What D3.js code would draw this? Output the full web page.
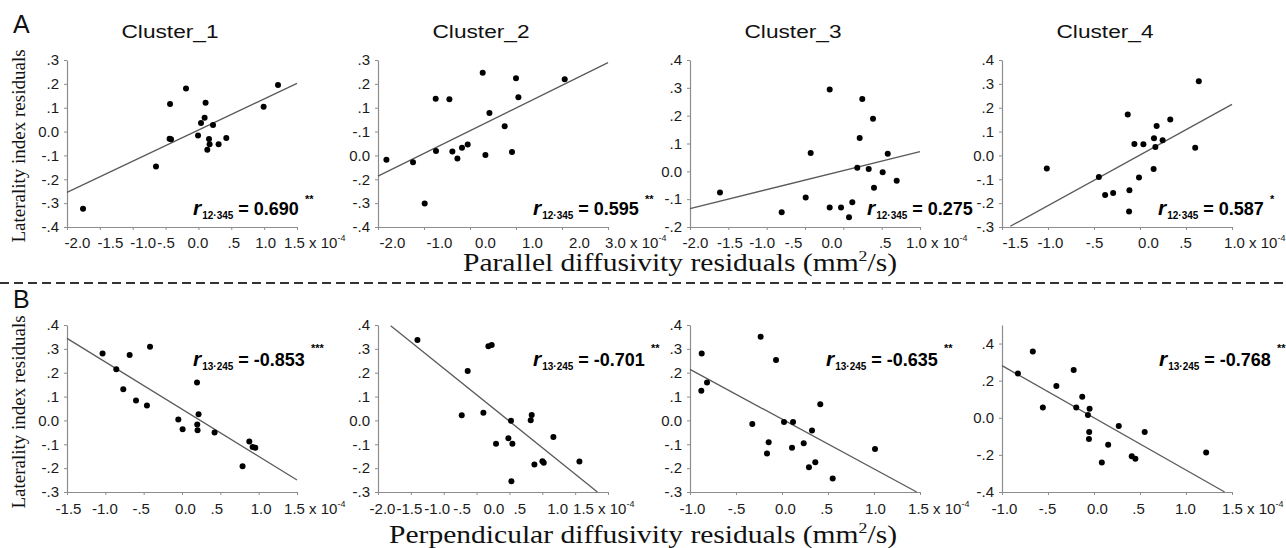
<!DOCTYPE html>
<html>
<head>
<meta charset="utf-8">
<script src="https://cdn.jsdelivr.net/npm/d3@7"></script>
<style>
  body { margin: 0; background: #fff; }
  svg { display: block; }
  text { font-family: "Liberation Sans", Arial, sans-serif; }
</style>
</head>
<body>
<svg id="drawing_region" width="1286" height="548"></svg>
<script>
// ---- data (x in 10^-4 mm^2/s, y = laterality index residuals) ----
const clusterNames = ["Cluster_1", "Cluster_2", "Cluster_3", "Cluster_4"];

// row A: parallel diffusivity residuals
const a1Points = [[-1.756,-0.323],[-0.646,-0.146],[-0.432,0.116],[-0.439,-0.030],[-0.417,-0.032],[-0.189,0.181],[0.109,0.121],[0.094,0.058],[0.039,0.036],[0.222,0.028],[-0.006,-0.016],[0.161,-0.031],[0.170,-0.053],[0.135,-0.076],[0.307,-0.053],[0.424,-0.027],[0.992,0.104],[1.211,0.195]];
const a2Points = [[-1.817,-0.118],[-1.239,-0.129],[-0.985,-0.301],[-0.746,0.138],[-0.739,-0.081],[-0.448,0.136],[-0.383,-0.084],[-0.274,-0.113],[-0.174,-0.068],[-0.050,-0.054],[0.276,0.247],[0.335,-0.098],[0.422,0.078],[0.754,0.022],[0.913,-0.086],[1.000,0.223],[1.052,0.144],[2.059,0.219]];
const a3Points = [[-1.609,-0.076],[-0.804,-0.147],[-0.491,-0.094],[-0.426,0.066],[-0.178,0.294],[-0.178,-0.130],[-0.030,-0.130],[0.074,-0.165],[0.117,-0.111],[0.182,0.013],[0.213,0.120],[0.247,0.260],[0.331,0.008],[0.387,0.189],[0.400,-0.059],[0.513,-0.003],[0.579,0.063],[0.696,-0.034]];
const a4Points = [[-1.013,-0.055],[-0.447,-0.090],[-0.379,-0.166],[-0.292,-0.157],[-0.133,0.172],[-0.115,-0.146],[-0.119,-0.235],[-0.061,0.048],[-0.011,-0.093],[0.037,0.047],[0.148,-0.057],[0.152,0.072],[0.167,0.035],[0.181,0.123],[0.246,0.064],[0.329,0.151],[0.600,0.032],[0.639,0.311]];

// row B: perpendicular diffusivity residuals
const b1Points = [[-1.036,0.281],[-0.857,0.214],[-0.683,0.274],[-0.417,0.309],[-0.766,0.131],[-0.600,0.084],[-0.457,0.063],[-0.048,0.004],[0.008,-0.037],[0.196,0.159],[0.216,0.026],[0.199,-0.017],[0.203,-0.041],[0.425,-0.051],[0.878,-0.088],[0.921,-0.111],[0.956,-0.115],[0.790,-0.192]];
const b2Points = [[-1.400,0.337],[-0.635,0.207],[-0.320,0.311],[-0.270,0.316],[-0.726,0.022],[-0.396,0.032],[0.024,-0.001],[-0.016,-0.075],[-0.204,-0.098],[0.045,-0.098],[0.339,0.023],[0.324,0.001],[0.669,-0.069],[0.380,-0.185],[0.502,-0.171],[0.522,-0.177],[1.065,-0.172],[0.030,-0.255]];
const b3Points = [[-0.873,0.281],[-0.877,0.124],[-0.815,0.159],[-0.232,0.351],[-0.065,0.253],[-0.323,-0.015],[-0.145,-0.091],[-0.163,-0.139],[0.022,-0.007],[0.120,-0.007],[0.109,-0.115],[0.236,-0.096],[0.326,-0.042],[0.416,0.068],[0.362,-0.175],[0.293,-0.196],[0.551,-0.243],[1.011,-0.120]];
const b4Points = [[-0.827,0.239],[-0.665,0.357],[-0.556,0.056],[-0.409,0.171],[-0.221,0.258],[-0.193,0.055],[-0.128,0.113],[-0.066,0.015],[-0.048,0.048],[-0.052,-0.077],[-0.055,-0.115],[0.085,-0.241],[0.154,-0.146],[0.269,-0.044],[0.410,-0.208],[0.450,-0.221],[0.551,-0.077],[1.219,-0.187]];

// fitted regression line end points
const aFits = [[[-2.0,-0.255],[1.5,0.202]], [[-2.0,-0.187],[3.0,0.289]], [[-2.0,-0.134],[1.0,0.071]], [[-1.41,-0.297],[1.0,0.214]]];
const bFits = [[[-1.5,0.344],[1.5,-0.25]], [[-1.807,0.397],[1.339,-0.3]], [[-1.0,0.214],[1.464,-0.3]], [[-1.0,0.281],[1.42,-0.4]]];

// partial correlations
const aSub = "12·345", bSub = "13·245";
const aR = ["0.690", "0.595", "0.275", "0.587"];
const aSig = ["**", "**", "", "*"];
const bR = ["-0.853", "-0.701", "-0.635", "-0.768"];
const bSig = ["***", "**", "**", "**"];

// ticks
const aXTicks = [[-2,-1.5,-1,-0.5,0,0.5,1,1.5], [-2,-1,0,1,2,3], [-2,-1.5,-1,-0.5,0,0.5,1], [-1.5,-1,-0.5,0,0.5,1]];
const aXLabels = [["-2.0","-1.5","-1.0","-.5","0.0",".5","1.0","1.5"], ["-2.0","-1.0","0.0","1.0","2.0","3.0"], ["-2.0","-1.5","-1.0","-.5","0.0",".5","1.0"], ["-1.5","-1.0","-.5","0.0",".5","1.0"]];
const aYTicks = [[0.3,0.2,0.1,0,-0.1,-0.2,-0.3,-0.4], [0.3,0.2,0.1,0,-0.1,-0.2,-0.3,-0.4], [0.4,0.3,0.2,0.1,0,-0.1,-0.2], [0.4,0.3,0.2,0.1,0,-0.1,-0.2,-0.3]];
const aYLabels = [[".3",".2",".1","0.0","-.1","-.2","-.3","-.4"], [".3",".2",".1","-.1","0.0","-.2","-.3","-.4"], [".4",".3",".2",".1","0.0","-.1","-.2"], [".4",".3",".2",".1","0.0","-.1","-.2","-.3"]];
const bXTicks = [[-1.5,-1,-0.5,0,0.5,1,1.5], [-2,-1.5,-1,-0.5,0,0.5,1,1.5], [-1,-0.5,0,0.5,1,1.5], [-1,-0.5,0,0.5,1,1.5]];
const bXLabels = [["-1.5","-1.0","-.5","0.0",".5","1.0","1.5"], ["-2.0","-1.5","-1.0","-.5","0.0",".5","1.0","1.5"], ["-1.0","-.5","0.0",".5","1.0","1.5"], ["-1.0","-.5","0.0",".5","1.0","1.5"]];
const bYTicks = [[0.4,0.3,0.2,0.1,0,-0.1,-0.2,-0.3], [0.4,0.3,0.2,0.1,0,-0.1,-0.2,-0.3], [0.4,0.3,0.2,0.1,0,-0.1,-0.2,-0.3], [0.4,0.2,0,-0.2,-0.4]];
const bYLabels = [[".4",".3",".2",".1","0.0","-.1","-.2","-.3"], [".4",".3",".2",".1","0.0","-.1","-.2","-.3"], [".4",".3",".2",".1","0.0","-.1","-.2","-.3"], [".4",".2","0.0","-.2","-.4"]];
const bYTop = [0.4, 0.4, 0.4, 0.5];

// ---- layout ----
const lefts = [67, 378, 690, 1002];
const plotW = 230;
const rows = [
    { top: 60, bottom: 227, xPad: 7, rY: 215, sigDy: -12 },
    { top: 325, bottom: 492, xPad: 8, rY: 366, sigDy: -14 }
];
const aNudge = [[10,10,10,0,-1,2,1,-3], [14,15,15,16,17,7], [5,1,-5,-12,-12,3,-4], [13,2,0,8,-1,2]];
const bNudge = [[1,-1,-3,3,-4,2,-3], [4,-2,-7,-15,-16,-23,-18,-25], [2,0,3,-2,1,-2], [2,-1,3,-2,-1,0]];
const aRx = [193, 533, 867, 1158];
const bRx = [193, 533, 826, 1159];

const svg = d3.select('#drawing_region');
const axisColor = '#8c8c8c';

const panels = [];
const aPts = [a1Points, a2Points, a3Points, a4Points];
const bPts = [b1Points, b2Points, b3Points, b4Points];
for (let i = 0; i < 4; i++) {
    panels.push({ row: rows[0], left: lefts[i], pts: aPts[i], fit: aFits[i], xTicks: aXTicks[i], xLabels: aXLabels[i],
        yTicks: aYTicks[i], yLabels: aYLabels[i], yTop: aYTicks[i][0], nudge: aNudge[i],
        rx: aRx[i], sub: aSub, r: aR[i], sig: aSig[i] });
}
for (let i = 0; i < 4; i++) {
    panels.push({ row: rows[1], left: lefts[i], pts: bPts[i], fit: bFits[i], xTicks: bXTicks[i], xLabels: bXLabels[i],
        yTicks: bYTicks[i], yLabels: bYLabels[i], yTop: bYTop[i], nudge: bNudge[i],
        rx: bRx[i], sub: bSub, r: bR[i], sig: bSig[i] });
}

function drawPanel(p) {
    const xscale = d3.scaleLinear()
        .domain([p.xTicks[0], p.xTicks[p.xTicks.length - 1]])
        .range([p.left, p.left + plotW]);
    const yscale = d3.scaleLinear()
        .domain([p.yTicks[p.yTicks.length - 1], p.yTop])
        .range([p.row.bottom, p.row.top]);

    const g = svg.append('g');

    const xaxis_group = g.append('g')
        .attr('transform', `translate(0, ${p.row.bottom})`)
        .call(d3.axisBottom(xscale)
            .tickValues(p.xTicks)
            .tickFormat((d, i) => p.xLabels[i])
            .tickSize(3)
            .tickSizeOuter(0)
            .tickPadding(p.row.xPad));

    const yaxis_group = g.append('g')
        .attr('transform', `translate(${p.left}, 0)`)
        .call(d3.axisLeft(yscale)
            .tickValues(p.yTicks)
            .tickFormat((d, i) => p.yLabels[i])
            .tickSize(3)
            .tickSizeOuter(0)
            .tickPadding(5));

    [xaxis_group, yaxis_group].forEach(ax => {
        ax.select('.domain').attr('stroke', axisColor).attr('stroke-width', 1.2);
        ax.selectAll('.tick line').attr('stroke', axisColor);
        ax.selectAll('.tick text')
            .attr('fill', '#1a1a1a')
            .style('font-size', '15px')
            .style('font-family', '"Liberation Sans", Arial, sans-serif');
    });

    xaxis_group.selectAll('.tick text').attr('dx', (d, i) => p.nudge[i] || 0);

    // last x label carries the unit multiplier
    const xt = xaxis_group.selectAll('.tick text').nodes();
    const last = xt[xt.length - 1];
    const w = last.getComputedTextLength();
    d3.select(last).attr('text-anchor', 'start').attr('x', -w / 2);
    d3.select(last).append('tspan').text(' x 10');
    d3.select(last).append('tspan').style('font-size', '9px').attr('dy', '-0.7em').text('-4');

    // regression line
    g.append('line')
        .attr('x1', xscale(p.fit[0][0])).attr('y1', yscale(p.fit[0][1]))
        .attr('x2', xscale(p.fit[1][0])).attr('y2', yscale(p.fit[1][1]))
        .attr('stroke', '#5a5a5a')
        .attr('stroke-width', 1.3);

    g.selectAll('circle')
        .data(p.pts)
        .join('circle')
        .attr('cx', d => xscale(d[0]))
        .attr('cy', d => yscale(d[1]))
        .attr('r', 3)
        .attr('fill', '#000');

    // correlation label
    const ann = g.append('text')
        .attr('x', p.rx)
        .attr('y', p.row.rY)
        .attr('font-weight', 'bold')
        .attr('fill', '#000');
    ann.append('tspan').attr('font-style', 'italic').style('font-size', '21px').text('r');
    ann.append('tspan').style('font-size', '10px').attr('dx', 1).attr('dy', 4).text(p.sub);
    ann.append('tspan').style('font-size', '18px').attr('dx', 5).attr('dy', -4).text('= ' + p.r);
    if (p.sig) {
        ann.append('tspan').style('font-size', '11px').attr('dx', 6).attr('dy', p.row.sigDy).text(p.sig);
    }
}

panels.forEach(drawPanel);

// cluster titles
svg.selectAll('.cluster-title')
    .data(clusterNames)
    .join('text')
    .attr('class', 'cluster-title')
    .attr('x', (d, i) => lefts[i] + plotW / 2 - 12)
    .attr('y', 38)
    .attr('text-anchor', 'middle')
    .attr('textLength', 97)
    .attr('lengthAdjust', 'spacingAndGlyphs')
    .attr('fill', '#111')
    .style('font-size', '18px')
    .text(d => d);

// panel letters
[['A', 33], ['B', 308]].forEach(([t, yy]) => {
    svg.append('text')
        .attr('x', 13)
        .attr('y', yy)
        .style('font-size', '25px')
        .attr('fill', '#111')
        .text(t);
});

// y axis titles
[146, 412].forEach(cy => {
    svg.append('text')
        .attr('transform', `translate(25, ${cy}) rotate(-90)`)
        .attr('text-anchor', 'middle')
        .style('font-family', '"Liberation Serif", "Times New Roman", serif')
        .style('font-size', '19px')
        .attr('fill', '#111')
        .text('Laterality index residuals');
});

// x axis titles
[['Parallel', 271, 434], ['Perpendicular', 543, 508]].forEach(([word, yy, len]) => {
    const t = svg.append('text')
        .attr('x', 897)
        .attr('y', yy)
        .attr('text-anchor', 'end')
        .attr('textLength', len)
        .attr('lengthAdjust', 'spacingAndGlyphs')
        .style('font-family', '"Liberation Serif", "Times New Roman", serif')
        .style('font-size', '25px')
        .attr('fill', '#111');
    t.append('tspan').text(word + ' diffusivity residuals (mm');
    t.append('tspan').style('font-size', '15px').attr('dy', -10).text('2');
    t.append('tspan').attr('dy', 10).text('/s)');
});

// separator between A and B
svg.append('line')
    .attr('x1', 0).attr('x2', 1286)
    .attr('y1', 283).attr('y2', 283)
    .attr('stroke', '#333')
    .attr('stroke-width', 1.8)
    .attr('stroke-dasharray', '9,5');
</script>
</body>
</html>
